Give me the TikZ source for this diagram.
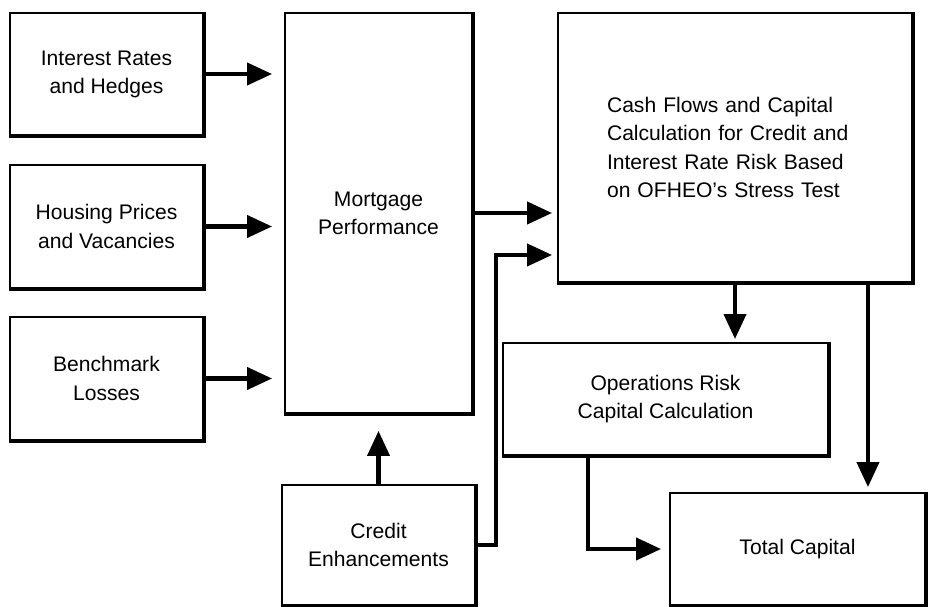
\documentclass[tikz,border=0pt]{standalone}
\usepackage{fontspec}
\setmainfont{Liberation Sans}
\usetikzlibrary{arrows.meta,calc}

\begin{document}
\begin{tikzpicture}[x=0.02cm,y=-0.02cm,
    box/.style={draw,line width=1.1pt,align=center,inner sep=0pt,
      font=\fontsize{12}{16}\selectfont},
    arr/.style={line width=2.3pt,-{Triangle[length=0.5cm,width=0.44cm]}}]
      \useasboundingbox (0,0) rectangle (931,607) ;
      % input boxes
      \node[box,minimum width=3.86cm,minimum height=2.44cm] (ir) at (106.5,74) {Interest Rates\\and Hedges} ;
      \node[box,minimum width=3.86cm,minimum height=2.46cm] (hp) at (106.5,226.5) {Housing Prices\\and Vacancies} ;
      \node[box,minimum width=3.86cm,minimum height=2.46cm] (bl) at (106.5,378.5) {Benchmark\\Losses} ;
      \node[box,minimum width=3.74cm,minimum height=8cm] (mp) at (378.5,213) {Mortgage\\Performance} ;
      \node[box,minimum width=3.86cm,minimum height=2.4cm] (ce) at (378.5,545) {Credit\\Enhancements} ;
      % calculation boxes
      \node[box,align=left,text width=5.12cm,minimum width=7.08cm,minimum height=5.38cm] (cf) at (735,147.5) %
        {Cash Flows and Capital\\Calculation for Credit and\\Interest Rate Risk Based\\on OFHEO’s Stress Test} ;
      \node[box,minimum width=6.5cm,minimum height=2.24cm] (or) at (665.5,399) {Operations Risk\\Capital Calculation} ;
      \node[box,minimum width=5.1cm,minimum height=2.24cm] (tc) at (797.5,549) {Total Capital} ;
      % heavy right and bottom edges
      \foreach \n in {ir,hp,bl,mp,ce,cf,or,tc}
        \draw[line width=2.6pt,line cap=square] (\n.north east) -- (\n.south east) -- (\n.south west) ;
      % connectors
      \draw[arr,shorten >=0.24cm] (ir.east) -- (ir.east -| mp.west) ;
      \draw[arr,shorten >=0.24cm] (hp.east) -- (hp.east -| mp.west) ;
      \draw[arr,shorten >=0.24cm] (bl.east) -- (bl.east -| mp.west) ;
      \draw[arr,shorten >=0.34cm] (ce.north) -- (mp.south) ;
      \draw[arr,shorten >=0.1cm] (mp.east) -- (mp.east -| cf.west) ;
      \draw[arr,shorten >=0.1cm] (ce.east) -- ++(20,0) |- ([yshift=-2.15cm]cf.west) ;
      \draw[arr,shorten >=0.06cm] (cf.south) -- (cf.south |- or.north) ;
      \draw[arr,shorten >=0.1cm] ([xshift=2.66cm]cf.south) -- ([xshift=2.66cm]cf.south |- tc.north) ;
      \draw[arr,shorten >=0.16cm] ([xshift=-1.55cm]or.south) |- (tc.west) ;
    \end{tikzpicture}
\end{document}
